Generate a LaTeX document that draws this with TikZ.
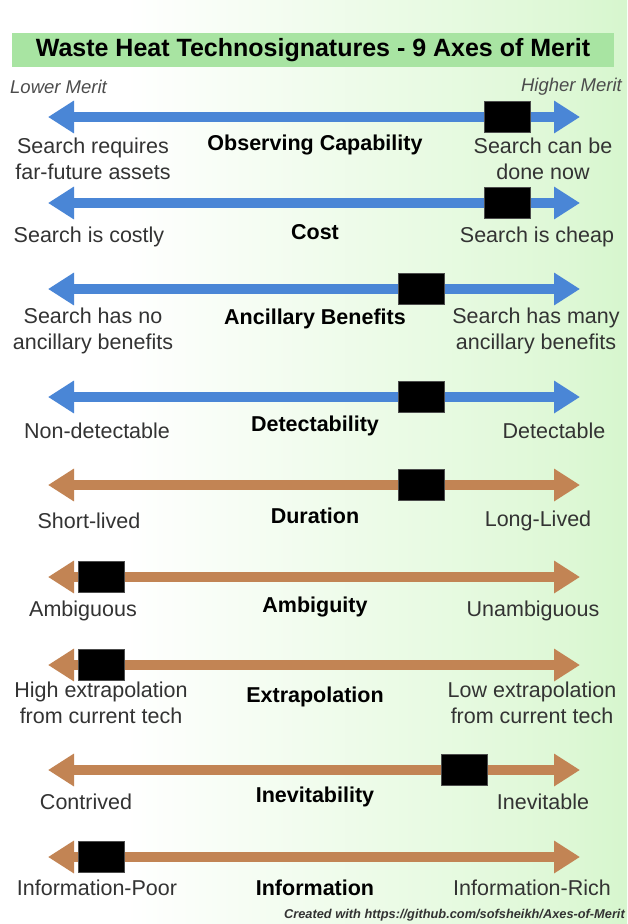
\documentclass[tikz,border=0pt]{standalone}
\usepackage{fontspec}
\setmainfont{Liberation Sans}
\usetikzlibrary{arrows.meta}

\definecolor{axisblue}{RGB}{74,134,214}
\definecolor{axisbrown}{RGB}{194,132,84}
\definecolor{titlegreen}{RGB}{168,228,162}
\definecolor{bgmid}{RGB}{222,248,214}
\definecolor{bgend}{RGB}{176,236,164}
\pgfdeclarehorizontalshading{meritbg}{100bp}{color(0bp)=(white); color(35bp)=(white); color(70bp)=(bgmid); color(100bp)=(bgend)}

\begin{document}
\begin{tikzpicture}[x=1pt, y=-1pt,
  axisline/.style={line width=10pt, {Triangle[length=26pt,width=31pt]}-{Triangle[length=26pt,width=31pt]}},
  meritbox/.style={fill=black, draw=black!70, minimum width=46pt, minimum height=31pt, inner sep=0pt},
  sidelabel/.style={font=\fontsize{21.5}{25.5}\selectfont, align=center, text=black!80, inner sep=0pt},
  axisname/.style={font=\bfseries\fontsize{21.5}{25}\selectfont, inner sep=0pt},
  meritend/.style={font=\itshape\fontsize{18.5}{20}\selectfont, text=black!70, inner sep=0pt}]

  % ===== Background and title =====
  \useasboundingbox (0,0) rectangle (627,924);
  \shade[shading=meritbg] (0,0) rectangle (627,924);
  \node[fill=titlegreen, minimum width=602pt, minimum height=34pt, inner sep=0pt,
        font=\bfseries\fontsize{25}{27}\selectfont] (title) at (313,50)
        {Waste Heat Technosignatures - 9 Axes of Merit};
  \node[meritend, anchor=west] (lower) at (10,87) {Lower Merit};
  \node[meritend, anchor=east] (higher) at (622,87) {Higher Merit};

  % ===== Axes: row / y / marker x / colour =====
  \foreach \i/\ay/\bx/\col in {1/117/507/axisblue, 2/203/507/axisblue, 3/289/421/axisblue,
                               4/397/421/axisblue, 5/485/421/axisbrown, 6/577/101/axisbrown,
                               7/665/101/axisbrown, 8/770/464/axisbrown, 9/857/101/axisbrown}{
    \coordinate (L\i) at (48,\ay);
    \coordinate (R\i) at (580,\ay);
    \draw[axisline, draw=\col] (L\i) -- (R\i);
    \node[meritbox] (box\i) at (\bx,\ay) {};
  }

  % ===== Labels =====
  \node[sidelabel] (low1) at (93,159) {Search requires\\far-future assets};
  \node[axisname]  (name1) at (315,145) {Observing Capability};
  \node[sidelabel] (high1) at (543,159) {Search can be\\done now};

  \node[sidelabel] (low2) at (89,237) {Search is costly};
  \node[axisname]  (name2) at (315,232) {Cost};
  \node[sidelabel] (high2) at (537,237) {Search is cheap};

  \node[sidelabel] (low3) at (93,331) {Search has no\\ancillary benefits};
  \node[axisname]  (name3) at (315,319) {Ancillary Benefits};
  \node[sidelabel] (high3) at (536,331) {Search has many\\ancillary benefits};

  \node[sidelabel] (low4) at (97,431) {Non-detectable};
  \node[axisname]  (name4) at (315,426) {Detectability};
  \node[sidelabel] (high4) at (554,431) {Detectable};

  \node[sidelabel] (low5) at (89,521) {Short-lived};
  \node[axisname]  (name5) at (315,516) {Duration};
  \node[sidelabel] (high5) at (538,521) {Long-Lived};

  \node[sidelabel] (low6) at (83,611) {Ambiguous};
  \node[axisname]  (name6) at (315,607) {Ambiguity};
  \node[sidelabel] (high6) at (533,611) {Unambiguous};

  \node[sidelabel] (low7) at (101,703) {High extrapolation\\from current tech};
  \node[axisname]  (name7) at (315,697) {Extrapolation};
  \node[sidelabel] (high7) at (532,703) {Low extrapolation\\from current tech};

  \node[sidelabel] (low8) at (86,802) {Contrived};
  \node[axisname]  (name8) at (315,797) {Inevitability};
  \node[sidelabel] (high8) at (543,802) {Inevitable};

  \node[sidelabel] (low9) at (97,888) {Information-Poor};
  \node[axisname]  (name9) at (315,888) {Information};
  \node[sidelabel] (high9) at (532,888) {Information-Rich};

  % ===== Credit =====
  \node[anchor=east, inner sep=0pt, text=black!80, font=\bfseries\itshape\fontsize{12.8}{14}\selectfont]
    (credit) at (625,915) {Created with https://github.com/sofsheikh/Axes-of-Merit};

\end{tikzpicture}
\end{document}
